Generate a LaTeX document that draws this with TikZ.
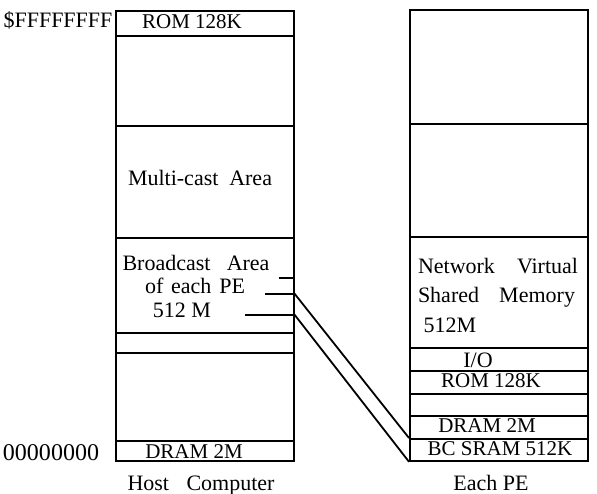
\documentclass[tikz,border=0pt]{standalone}
\usepackage{fontspec}
\setmainfont{Liberation Serif}
\begin{document}
\begin{tikzpicture}[x=0.5pt,y=-0.5pt, line width=0.9pt,
  memrow/.style={draw, rectangle, inner sep=0pt, minimum width=89pt, anchor=north west},
  lbl/.style={anchor=base, inner sep=0pt, font=\fontsize{11}{13}\selectfont},
  small/.style={font=\fontsize{10.5}{12}\selectfont},
  wire/.style={line width=0.9pt}]
\useasboundingbox (0,0) rectangle (597,493);
% Host computer memory map
\node[memrow, minimum height=12.5pt] (hrom)   at (115,10)  {};
\node[memrow, minimum height=45pt]   (hfree1) at (115,35)  {};
\node[memrow, minimum height=56pt]   (hmulti) at (115,125) {};
\node[memrow, minimum height=47.5pt] (hbcast) at (115,237) {};
\node[memrow, minimum height=10pt]   (hgap)   at (115,332) {};
\node[memrow, minimum height=44pt]   (hfree2) at (115,352) {};
\node[memrow, minimum height=10pt]   (hdram)  at (115,440) {};
% Each PE memory map
\node[memrow, minimum height=57pt]   (pfree1) at (409,9)   {};
\node[memrow, minimum height=56.5pt] (pfree2) at (409,123) {};
\node[memrow, minimum height=55.5pt] (pnvsm)  at (409,236) {};
\node[memrow, minimum height=11.5pt] (pio)    at (409,347) {};
\node[memrow, minimum height=11.5pt] (prom)   at (409,370) {};
\node[memrow, minimum height=11pt]   (pgap)   at (409,393) {};
\node[memrow, minimum height=11.5pt] (pdram)  at (409,415) {};
\node[memrow, minimum height=11pt]   (psram)  at (409,438) {};
% labels, host
\node[lbl] (ltop) at (58,27) {\$FFFFFFFF};
\node[lbl, font=\fontsize{12}{14}\selectfont] (lzero) at (51,460) {00000000};
\node[lbl, small] (lhrom) at (192,28) {ROM 128K};
\node[lbl] (lmulti) at (200,185) {\makebox[72pt][s]{Multi-cast Area}};
\node[lbl] (lb1) at (196,270) {\makebox[73.5pt][s]{Broadcast Area}};
\node[lbl] (lb2) at (195,293) {\makebox[50pt][s]{of each PE}};
\node[lbl] (lb3) at (182,317) {512 M};
\node[lbl, small] (lhdram) at (194,458) {DRAM 2M};
\node[lbl] (lhost) at (201,490) {\makebox[73.5pt][s]{Host Computer}};
% labels, PE
\node[lbl] (ln1) at (498,273) {\makebox[80pt][s]{Network Virtual}};
\node[lbl] (ln2) at (496.5,302) {\makebox[78.5pt][s]{Shared Memory}};
\node[lbl] (ln3) at (450,332) {512M};
\node[lbl] (lio) at (478,367) {I/O};
\node[lbl, small] (lprom) at (491,387) {ROM 128K};
\node[lbl, small] (lpdram) at (487,432) {DRAM 2M};
\node[lbl, small] (lpsram) at (500,455) {BC SRAM 512K};
\node[lbl] (lpe) at (491,490) {Each PE};
% ticks and mapping lines
\coordinate (t1) at (279,278);
\coordinate (t2) at (265,294);
\coordinate (t3) at (245,315);
\draw[wire] (t1) -- (hbcast.east |- t1);
\draw[wire] (t2) -- (hbcast.east |- t2) -- (psram.north west);
\draw[wire] (t3) -- (hbcast.east |- t3) -- (psram.south west);
\end{tikzpicture}
\end{document}
